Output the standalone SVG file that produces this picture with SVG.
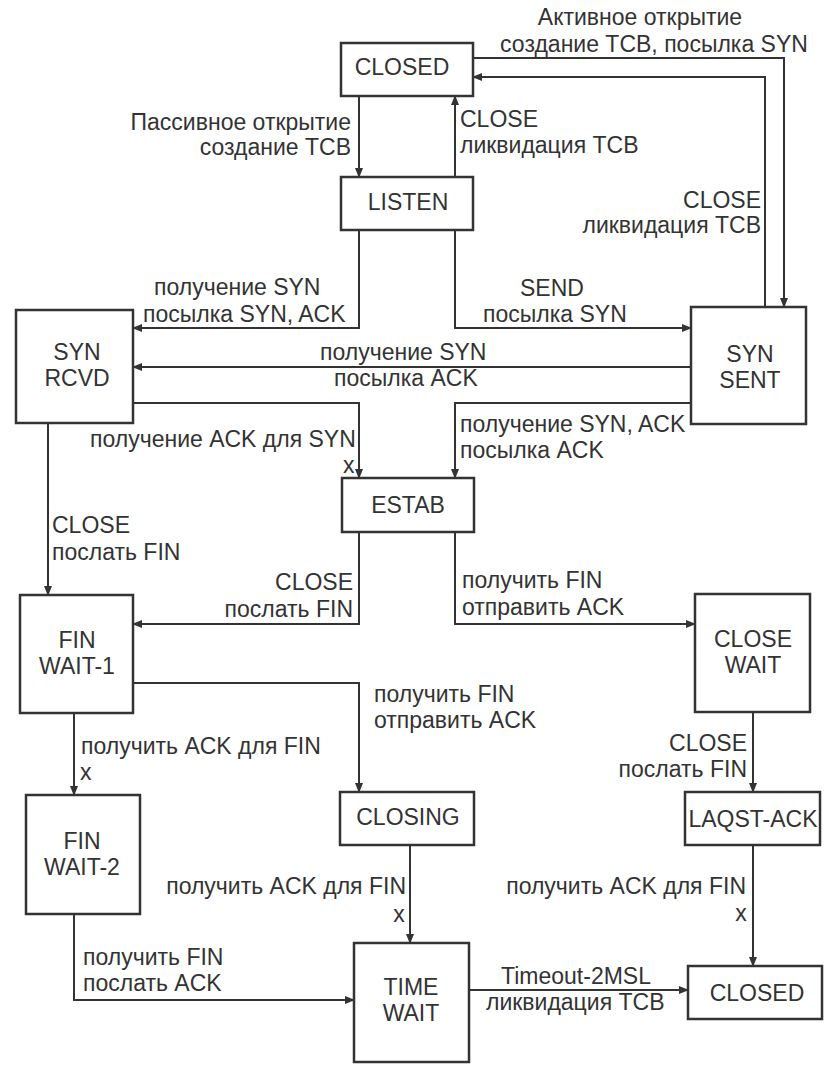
<svg xmlns="http://www.w3.org/2000/svg" width="833" height="1069" viewBox="0 0 833 1069">
<style>
.box{fill:#fff;stroke:#333;stroke-width:2.5}
.c{fill:none;stroke:#333;stroke-width:2;marker-end:url(#ah)}
text{font-family:"Liberation Sans",Arial,sans-serif;font-size:23px;fill:#333}
.m{text-anchor:middle}
.e{text-anchor:end}
</style>
<defs>
<marker id="ah" markerUnits="userSpaceOnUse" markerWidth="10" markerHeight="8" refX="9" refY="4" orient="auto">
<path d="M0,0 L10,4 L0,8 Z" fill="#333"/>
</marker>
</defs>
<rect width="833" height="1069" fill="#fff"/>
<g id="connectors">
<path class="c" d="M359,96 V177"/>
<path class="c" d="M455,177 V96"/>
<path class="c" d="M473,58 H784 V307"/>
<path class="c" d="M765,307 V77 H473"/>
<path class="c" d="M359,230 V328 H133"/>
<path class="c" d="M455,230 V328 H691"/>
<path class="c" d="M691,367 H133"/>
<path class="c" d="M133,403 H359 V478"/>
<path class="c" d="M691,403 H455 V478"/>
<path class="c" d="M48,423 V595"/>
<path class="c" d="M359,532 V624 H133"/>
<path class="c" d="M455,532 V624 H695"/>
<path class="c" d="M133,683 H359 V792"/>
<path class="c" d="M74,713 V795"/>
<path class="c" d="M753,712 V792"/>
<path class="c" d="M410,845 V943"/>
<path class="c" d="M753,845 V966"/>
<path class="c" d="M74,914 V1000 H354"/>
<path class="c" d="M469,990 H688"/>
</g>
<g id="labels">
<text class="m" x="640" y="25">Активное открытие</text>
<text class="m" x="654" y="52">создание TCB, посылка SYN</text>
<text class="e" x="351" y="130">Пассивное открытие</text>
<text class="e" x="351" y="155">создание TCB</text>
<text x="460" y="127">CLOSE</text>
<text x="460" y="153">ликвидация TCB</text>
<text class="e" x="761" y="208">CLOSE</text>
<text class="e" x="761" y="233">ликвидация TCB</text>
<text x="154" y="295">получение SYN</text>
<text x="143" y="322">посылка  SYN, ACK</text>
<text x="520" y="296">SEND</text>
<text x="483" y="322">посылка  SYN</text>
<text x="320" y="360">получение SYN</text>
<text x="334" y="386">посылка ACK</text>
<text x="90" y="447">получение ACK для SYN</text>
<text x="343" y="473">x</text>
<text x="460" y="432">получение SYN, ACK</text>
<text x="460" y="458">посылка ACK</text>
<text x="52" y="533">CLOSE</text>
<text x="52" y="560">послать FIN</text>
<text class="e" x="353" y="590">CLOSE</text>
<text class="e" x="353" y="617">послать FIN</text>
<text x="462" y="588">получить FIN</text>
<text x="462" y="615">отправить ACK</text>
<text x="374" y="702">получить FIN</text>
<text x="374" y="728">отправить ACK</text>
<text x="81" y="754">получить ACK для FIN</text>
<text x="80" y="780">x</text>
<text class="e" x="747" y="751">CLOSE</text>
<text class="e" x="747" y="777">послать FIN</text>
<text class="e" x="406" y="894">получить ACK для FIN</text>
<text class="m" x="399" y="922">x</text>
<text class="e" x="746" y="894">получить ACK для FIN</text>
<text class="m" x="741" y="921">x</text>
<text x="83" y="965">получить FIN</text>
<text x="83" y="991">послать ACK</text>
<text x="501" y="984">Timeout-2MSL</text>
<text x="486" y="1010">ликвидация TCB</text>
</g>
<g id="closed-top"><rect class="box" x="341" y="43" width="132" height="53"/><text class="m" x="402" y="75">CLOSED</text></g>
<g id="listen"><rect class="box" x="341" y="177" width="132" height="53"/><text class="m" x="408" y="210">LISTEN</text></g>
<g id="syn-rcvd"><rect class="box" x="16" y="310" width="117" height="113"/><text class="m" x="77" y="360">SYN</text><text class="m" x="77" y="386">RCVD</text></g>
<g id="syn-sent"><rect class="box" x="691" y="307" width="115" height="117"/><text class="m" x="750" y="362">SYN</text><text class="m" x="750" y="388">SENT</text></g>
<g id="estab"><rect class="box" x="342" y="478" width="132" height="54"/><text class="m" x="408" y="513">ESTAB</text></g>
<g id="fin-wait-1"><rect class="box" x="20" y="595" width="113" height="118"/><text class="m" x="77" y="648">FIN</text><text class="m" x="77" y="674">WAIT-1</text></g>
<g id="close-wait"><rect class="box" x="695" y="594" width="115" height="118"/><text class="m" x="753" y="647">CLOSE</text><text class="m" x="753" y="673">WAIT</text></g>
<g id="fin-wait-2"><rect class="box" x="26" y="795" width="114" height="119"/><text class="m" x="82" y="849">FIN</text><text class="m" x="82" y="875">WAIT-2</text></g>
<g id="closing"><rect class="box" x="340" y="792" width="134" height="53"/><text class="m" x="408" y="825">CLOSING</text></g>
<g id="last-ack"><rect class="box" x="685" y="792" width="135" height="53"/><text class="m" x="753" y="827">LAQST-ACK</text></g>
<g id="time-wait"><rect class="box" x="354" y="943" width="115" height="119"/><text class="m" x="411" y="995">TIME</text><text class="m" x="411" y="1021">WAIT</text></g>
<g id="closed-bottom"><rect class="box" x="688" y="966" width="134" height="53"/><text class="m" x="757" y="1001">CLOSED</text></g>
</svg>
